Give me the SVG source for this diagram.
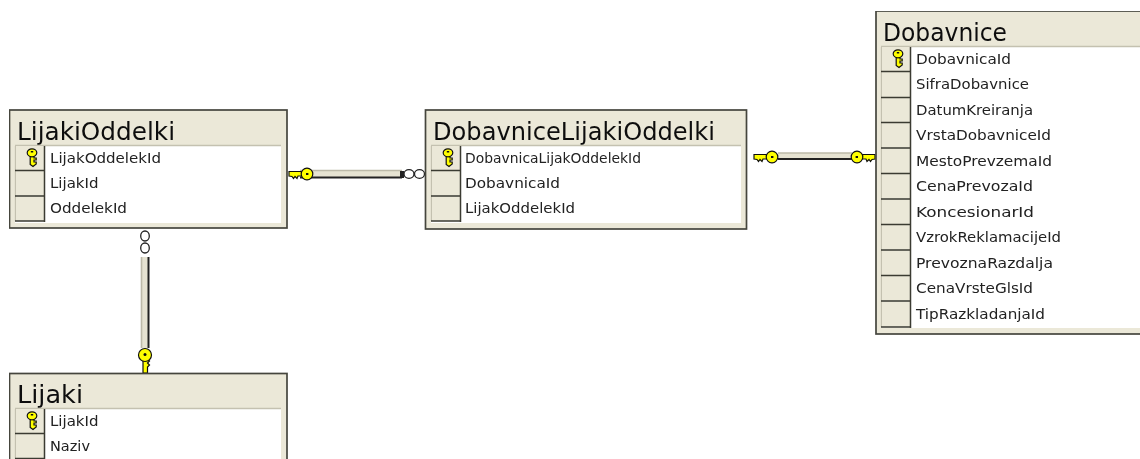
<svg xmlns="http://www.w3.org/2000/svg" width="1140" height="459" viewBox="0 0 1140 459">
<style>
.box{fill:#ebe8d8;stroke:#45453e;stroke-width:1.7}
.body{fill:#fff}
.hl{stroke:#c4c1b0;stroke-width:1.3;fill:none}
.sel{fill:#ebe8d8}
.dk{stroke:#3a3a32;stroke-width:1.5;fill:none}
.t{font-family:"DejaVu Sans",sans-serif;font-size:24px;fill:#111}
.f{font-family:"DejaVu Sans",sans-serif;font-size:14.4px;fill:#222}
.rel{fill:#e6e3d2;stroke:none}
.edge{stroke:#222;stroke-width:2;fill:none}
.edge2{stroke:#bdbaa9;stroke-width:1.6;fill:none}
.k{fill:#ffff00;stroke:#111;stroke-width:1.2}
.inf{fill:#fff;stroke:#222;stroke-width:1.3}
</style>
<defs>
<filter id="soft" x="0" y="0" width="100%" height="100%"><feGaussianBlur stdDeviation="0.35"/></filter>
<g id="pk"><path class="k" stroke-width="0.9" d="M-1.8 -1H2V2H4.200V4H2V6H4.200V8L1 10.500L-1.800 8.500Z"/><ellipse cx="0" cy="-3.200" rx="4.800" ry="4" class="k" stroke-width="1"/><rect x="-1.200" y="-5" width="2.400" height="1.500" fill="#111"/></g>
<g id="keyH"><path d="M0 -2.500H13V2H9L8 4.500 6 2.500 4.500 4.500 3 2.500 0 2Z" class="k"/><circle cx="18" cy="0" r="5.800" class="k" stroke-width="1.400"/><rect x="17" y="-1" width="2.400" height="2" fill="#111"/></g>
</defs>
<g filter="url(#soft)">
<g id="connectors">
<g id="rel-lijakioddelki-dobavnicelijakioddelki">
<rect class="rel" x="300" y="171" width="102" height="6"/><path class="edge2" d="M300 170.500H402"/><path class="edge" d="M300 177.500H402"/>
<rect x="400" y="171" width="4" height="7" fill="#222"/>
<use href="#keyH" x="289" y="174"/>
<ellipse class="inf" cx="409" cy="174" rx="5" ry="4.300"/><ellipse class="inf" cx="419.500" cy="174" rx="5" ry="4.300"/>
</g>
<g id="rel-dobavnicelijakioddelki-dobavnice">
<rect class="rel" x="778" y="153" width="74" height="5"/><path class="edge2" d="M778 153H852"/><path class="edge" d="M778 159H852"/>
<use href="#keyH" x="754" y="157"/>
<use href="#keyH" transform="translate(875 157) scale(-1 1)"/>
</g>
<g id="rel-lijakioddelki-lijaki">
<rect class="rel" x="142" y="257" width="6" height="91"/><path class="edge2" d="M141.500 257V348"/><path class="edge" d="M148.500 257V348"/>
<ellipse class="inf" cx="145" cy="236" rx="4.300" ry="5"/><ellipse class="inf" cx="145" cy="248" rx="4.300" ry="5"/>
<path class="k" d="M143 355H147.500V359L149.500 361 147.500 363 149.500 365 147.500 367V373H143Z"/>
<circle class="k" cx="145" cy="355" r="6.500" stroke-width="1.400"/><circle cx="145" cy="354.500" r="1.500" fill="#111"/>
</g>
</g>
<g id="node-lijakioddelki">
<rect class="box" x="9.500" y="110" width="277.500" height="118"/>
<text class="t" x="17" y="140" textLength="158" lengthAdjust="spacingAndGlyphs">LijakiOddelki</text>
<rect class="body" x="15" y="146" width="266" height="77"/><path class="hl" d="M15 145.500H281M15.500 146V221"/>
<rect class="sel" x="16" y="146" width="28" height="75"/><path class="dk" d="M15 170.500H45M15 196H45M15 221H45M44.500 146V222"/>
<use href="#pk" x="32" y="156"/>
<text class="f" x="50" y="163" textLength="111" lengthAdjust="spacingAndGlyphs">LijakOddelekId</text><text class="f" x="50" y="188" textLength="48.500" lengthAdjust="spacingAndGlyphs">LijakId</text><text class="f" x="50" y="213" textLength="77" lengthAdjust="spacingAndGlyphs">OddelekId</text>
</g>
<g id="node-dobavnicelijakioddelki">
<rect class="box" x="425.500" y="110" width="321" height="119"/>
<text class="t" x="433" y="140" textLength="282" lengthAdjust="spacingAndGlyphs">DobavniceLijakiOddelki</text>
<rect class="body" x="431" y="146" width="310" height="77"/><path class="hl" d="M431 145.500H741M431.500 146V221"/>
<rect class="sel" x="432" y="146" width="28" height="75"/><path class="dk" d="M431 170.500H461M431 196H461M431 221H461M460.500 146V222"/>
<use href="#pk" x="448" y="156"/>
<text class="f" x="465" y="163" textLength="176" lengthAdjust="spacingAndGlyphs">DobavnicaLijakOddelekId</text><text class="f" x="465" y="188" textLength="95" lengthAdjust="spacingAndGlyphs">DobavnicaId</text><text class="f" x="465" y="213" textLength="110" lengthAdjust="spacingAndGlyphs">LijakOddelekId</text>
</g>
<g id="node-dobavnice">
<rect class="box" x="876" y="11" width="270" height="323"/>
<text class="t" x="883" y="41" textLength="124" lengthAdjust="spacingAndGlyphs">Dobavnice</text>
<rect class="body" x="881" y="47" width="259" height="281"/><path class="hl" d="M881 46.500H1140M881.500 47V327"/>
<rect class="sel" x="882" y="47" width="28" height="280"/><path class="dk" d="M881 71.500H911M881 97.500H911M881 122.500H911M881 148H911M881 173.500H911M881 199H911M881 224.500H911M881 250H911M881 275.500H911M881 301H911M881 327H911M910.500 47V328"/>
<use href="#pk" x="898" y="57"/>
<text class="f" x="916" y="64" textLength="95" lengthAdjust="spacingAndGlyphs">DobavnicaId</text><text class="f" x="916" y="89" textLength="113" lengthAdjust="spacingAndGlyphs">SifraDobavnice</text><text class="f" x="916" y="115" textLength="117" lengthAdjust="spacingAndGlyphs">DatumKreiranja</text><text class="f" x="916" y="140" textLength="135" lengthAdjust="spacingAndGlyphs">VrstaDobavniceId</text><text class="f" x="916" y="166" textLength="136" lengthAdjust="spacingAndGlyphs">MestoPrevzemaId</text><text class="f" x="916" y="191" textLength="117" lengthAdjust="spacingAndGlyphs">CenaPrevozaId</text><text class="f" x="916" y="217" textLength="118" lengthAdjust="spacingAndGlyphs">KoncesionarId</text><text class="f" x="916" y="242" textLength="145" lengthAdjust="spacingAndGlyphs">VzrokReklamacijeId</text><text class="f" x="916" y="268" textLength="137" lengthAdjust="spacingAndGlyphs">PrevoznaRazdalja</text><text class="f" x="916" y="293" textLength="117" lengthAdjust="spacingAndGlyphs">CenaVrsteGlsId</text><text class="f" x="916" y="319" textLength="129" lengthAdjust="spacingAndGlyphs">TipRazkladanjaId</text>
</g>
<g id="node-lijaki">
<rect class="box" x="9.500" y="373.500" width="277.500" height="100"/>
<text class="t" x="17" y="403" textLength="66" lengthAdjust="spacingAndGlyphs">Lijaki</text>
<rect class="body" x="15" y="409" width="266" height="50"/><path class="hl" d="M15 408.500H281M15.500 409V459"/>
<rect class="sel" x="16" y="409" width="28" height="50"/><path class="dk" d="M15 433.500H45M15 458.500H45M44.500 409V459"/>
<use href="#pk" x="32" y="419"/>
<text class="f" x="50" y="426" textLength="48.500" lengthAdjust="spacingAndGlyphs">LijakId</text><text class="f" x="50" y="451" textLength="40" lengthAdjust="spacingAndGlyphs">Naziv</text>
</g>
</g>
</svg>
